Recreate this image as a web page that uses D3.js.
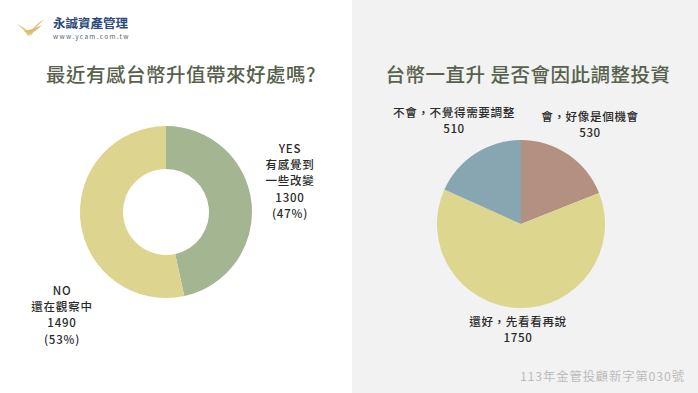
<!DOCTYPE html>
<html>
<head>
<meta charset="utf-8">
<script src="https://cdn.jsdelivr.net/npm/d3@7"></script>
<style>
  body { margin: 0; background: #fff; }
  svg { display: block; font-family: "Noto Sans CJK TC", "Noto Sans", sans-serif; }
</style>
</head>
<body>
<svg id="chart" width="698" height="393"></svg>
<script>
// left donut: 有感台幣升值帶來好處嗎
const donutLabels = [["YES", "有感覺到", "一些改變"], ["NO", "還在觀察中"]]
const donutValues = [1300, 1490]
const donutColors = ['#a4b592', '#ddd58f']

// right pie: 是否會因此調整投資
const pieLabels = ['會，好像是個機會', '還好，先看看再說', '不會，不覺得需要調整']
const pieValues = [530, 1750, 510]
const pieColors = ['#b3907f', '#ddd68f', '#87a6b2']

const svg = d3.select('#chart')

svg.append('rect').attr('x', 0).attr('y', 0).attr('width', 698).attr('height', 393).style('fill', '#fff')
svg.append('rect').attr('x', 352).attr('y', 0).attr('width', 346).attr('height', 393).style('fill', '#f2f2f2')

// logo
const logo = svg.append('g')
logo.append('path').attr('d', 'M16,24 C22,26 27,29 30,33 C33,27 38,22 45,19 C39,24 35,28 32,35 L28,36 C25,31 21,27 16,24 Z').style('fill', '#e3cf92')
logo.append('path').attr('d', 'M24,31 C30,30 36,28 42,25 C37,30 33,33 29,34 Z').style('fill', '#d9bd74')
logo.append('text').attr('x', 53).attr('y', 28).text('永誠資產管理')
    .style('font-size', '12.5px').style('font-weight', 'bold').style('fill', '#2c4a78')
logo.append('text').attr('x', 53).attr('y', 38.5).text('www.ycam.com.tw')
    .style('font-size', '6.5px').style('letter-spacing', '1.3px').style('fill', '#556680')

// titles
svg.append('text').attr('x', 181).attr('y', 82).attr('text-anchor', 'middle')
    .text('最近有感台幣升值帶來好處嗎?').style('font-size', '19.5px').style('font-weight', 500)
    .style('fill', '#57614c').style('letter-spacing', '0.5px')
svg.append('text').attr('x', 528).attr('y', 82).attr('text-anchor', 'middle')
    .text('台幣一直升 是否會因此調整投資').style('font-size', '19.5px').style('font-weight', 500)
    .style('fill', '#57614c').style('letter-spacing', '0.5px')

// donut
const total1 = d3.sum(donutValues)
const pie1 = d3.pie().sort(null).value(d => d)
const arc1 = d3.arc().innerRadius(43).outerRadius(86)
const g1 = svg.append('g').attr('transform', 'translate(166,212)')
g1.selectAll('.slice').data(pie1(donutValues)).enter().append('path')
    .attr('d', arc1).style('fill', (d, i) => donutColors[i]).attr('class', 'slice')

const donutLabelPos = [[290, 153], [62, 295]]
donutLabels.forEach((lines, i) => {
    const all = lines.concat([String(donutValues[i]), '(' + Math.round(donutValues[i] / total1 * 100) + '%)'])
    const t = svg.append('text').attr('text-anchor', 'middle')
        .style('font-size', '11.5px').style('font-weight', 500).style('fill', '#2a2a2a').style('letter-spacing', '0.8px')
    all.forEach((s, j) => {
        t.append('tspan').attr('x', donutLabelPos[i][0]).attr('y', donutLabelPos[i][1] + j * 16.2).text(s)
    })
})

// pie
const pie2 = d3.pie().sort(null).value(d => d)
const arc2 = d3.arc().innerRadius(0).outerRadius(84)
const g2 = svg.append('g').attr('transform', 'translate(521,224)')
g2.selectAll('.slice').data(pie2(pieValues)).enter().append('path')
    .attr('d', arc2).style('fill', (d, i) => pieColors[i]).attr('class', 'slice')

const pieLabelPos = [[590, 120.5], [518, 325.5], [454, 116.5]]
pieLabels.forEach((s, i) => {
    const t = svg.append('text').attr('text-anchor', 'middle')
        .style('font-size', '11.6px').style('font-weight', 500).style('fill', '#2a2a2a').style('letter-spacing', '0.6px')
    t.append('tspan').attr('x', pieLabelPos[i][0]).attr('y', pieLabelPos[i][1]).text(s)
    t.append('tspan').attr('x', pieLabelPos[i][0]).attr('y', pieLabelPos[i][1] + 16.3).text(pieValues[i])
})

// footer
svg.append('text').attr('x', 685).attr('y', 381).attr('text-anchor', 'end')
    .text('113年金管投顧新字第030號').style('font-size', '12.3px').style('letter-spacing', '0.9px').style('fill', '#bcbcbc')
</script>
</body>
</html>
